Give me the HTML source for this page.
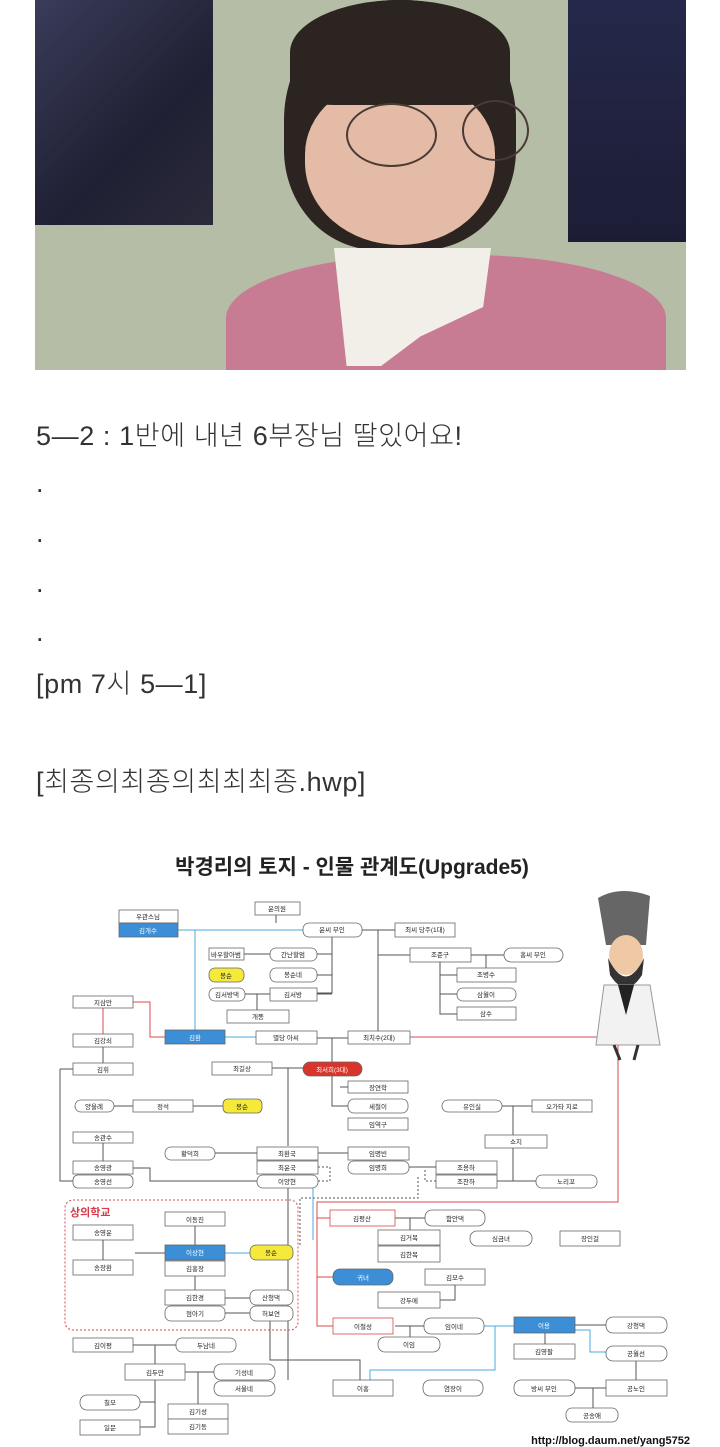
<!DOCTYPE html>
<html><head><meta charset="utf-8"><style>
*{margin:0;padding:0}
body{width:720px;height:1447px;background:#fff;position:relative;overflow:hidden;font-family:"Liberation Sans","Noto Sans CJK KR",sans-serif}
.a{position:absolute}
.t{position:absolute;left:36px;font-size:27px;letter-spacing:0.6px;color:#333;white-space:nowrap;font-family:"Liberation Sans","Noto Sans CJK KR",sans-serif;font-weight:300}
</style></head><body>
<div class="a" style="left:35px;top:0;width:651px;height:370px;background:#b5bda6;overflow:hidden">
 <div class="a" style="left:0;top:0;width:178px;height:225px;background:linear-gradient(135deg,#3a3c5a,#1f2033 60%,#2a2a3a)"></div>
 <div class="a" style="left:533px;top:0;width:118px;height:242px;background:linear-gradient(180deg,#25284a,#1c1d35)"></div>
 <div class="a" style="left:249px;top:0;width:232px;height:250px;border-radius:48% 48% 40% 40%;background:#2c2420"></div>
 <div class="a" style="left:270px;top:80px;width:190px;height:165px;border-radius:45% 45% 50% 50%;background:#e4bba6"></div>
 <div class="a" style="left:255px;top:0;width:220px;height:105px;border-radius:50% 50% 20% 20%;background:#2c2420"></div>
 <div class="a" style="left:311px;top:103px;width:87px;height:60px;border-radius:50%;border:2px solid #4a3a35"></div>
 <div class="a" style="left:427px;top:100px;width:63px;height:57px;border-radius:50%;border:2px solid #4a3a35"></div>
 <div class="a" style="left:191px;top:255px;width:440px;height:140px;border-radius:45% 45% 0 0;background:#c77c93"></div>
 <div class="a" style="left:299px;top:248px;width:157px;height:118px;background:#f2efe9;clip-path:polygon(0 0,100% 0,95% 50%,55% 75%,30% 100%,8% 100%)"></div>
</div>
<div class="t" style="top:414px">5—2 : 1반에 내년 6부장님 딸있어요!</div>
<div class="t" style="top:468px">.</div>
<div class="t" style="top:518px">.</div>
<div class="t" style="top:568px">.</div>
<div class="t" style="top:617px">.</div>
<div class="t" style="top:662px">[pm 7시 5—1]</div>
<div class="t" style="top:760px">[최종의최종의최최최종.hwp]</div>

<svg class="a" style="left:0;top:0" width="720" height="1447" font-family="Liberation Sans, Noto Sans CJK KR, sans-serif">
<text x="352" y="874" font-size="21" font-weight="bold" text-anchor="middle" fill="#222">박경리의 토지 - 인물 관계도(Upgrade5)</text>
<g fill="none" stroke="#555" stroke-width="1">
<path d="M276 915V923M362 930H395M378 930V1037M332 937V993H317M300 954H332M300 975H332M300 994H332M244 954H270M245 994H270M257 994V1010M378 955H410M471 955H504M486 955V968M440 962V1014H457M440 975H457M440 994H457M103 1047V1063M317 1038H348M332 1038V1062M272 1068H303M332 1075V1106H348M340 1087H348M114 1106H133M193 1106H223M215 1153H257M318 1153H348M103 1143V1161M60 1069H73M60 1069V1181H73M133 1168H150V1181H257M288 1068V1146M288 1188V1380M485 1106H532M513 1106V1135M497 1181H536M513 1181V1148M409 1167H436"/>
<path d="M225 1253H250M135 1253H165M103 1240V1260M195 1226V1245M195 1276V1290M225 1298H250M225 1313H250M270 1321V1360H360V1380M395 1218H425M410 1218V1230M395 1326H424M410 1326V1337M575 1325H606M545 1333V1344M636 1361V1380M575 1388H606M593 1388V1408M133 1345H176M155 1345V1364M185 1372H214M198 1372V1404M155 1380V1427H140M140 1402H155M440 1300H455V1285"/>
</g>
<g fill="none" stroke="#555" stroke-width="1" stroke-dasharray="2,2">
<path d="M193 1106H223M318 1167H330V1181H318M418 1177V1198H300V1245M436 1181H425V1170M485 1277H440"/>
</g>
<g fill="none" stroke="#4aa8dc" stroke-width="1">
<path d="M178 930H303M195 930V1030M225 1037H256M313 1188V1240M225 1253H250M484 1326H514M495 1326V1370H370V1380M575 1330H590V1352H606"/>
</g>
<g fill="none" stroke="#d94a4a" stroke-width="1">
<path d="M410 1037H618V1202H317V1326H333M317 1218H330M317 1277H333M103 1034V1008M133 1002H150V1037H165"/>
</g>
<rect x="65" y="1200" width="233" height="130" rx="8" fill="none" stroke="#d94a4a" stroke-dasharray="2,2"/>
<text x="70" y="1216" font-size="11" font-weight="bold" fill="#d9374a">상의학교</text>
<g stroke="#666" stroke-width="0.8">
<g fill="#fff">
<rect x="119" y="910" width="59" height="13"/><rect x="255" y="902" width="45" height="13"/>
<rect x="303" y="923" width="59" height="14" rx="6"/><rect x="395" y="923" width="60" height="14"/>
<rect x="209" y="948" width="35" height="12"/><rect x="270" y="948" width="47" height="13" rx="6"/>
<rect x="270" y="968" width="47" height="14" rx="6"/><rect x="209" y="988" width="36" height="13" rx="6"/>
<rect x="270" y="988" width="47" height="13"/><rect x="227" y="1010" width="62" height="13"/>
<rect x="410" y="948" width="61" height="14"/><rect x="504" y="948" width="59" height="14" rx="7"/>
<rect x="457" y="968" width="59" height="14"/><rect x="457" y="988" width="59" height="13" rx="6"/>
<rect x="457" y="1007" width="59" height="13"/><rect x="73" y="996" width="60" height="12"/>
<rect x="73" y="1034" width="60" height="13"/><rect x="73" y="1063" width="60" height="12"/>
<rect x="256" y="1031" width="61" height="13"/><rect x="348" y="1031" width="62" height="13"/>
<rect x="212" y="1062" width="60" height="13"/><rect x="348" y="1081" width="60" height="12"/>
<rect x="348" y="1099" width="60" height="14" rx="6"/><rect x="348" y="1118" width="60" height="12"/>
<rect x="75" y="1100" width="39" height="12" rx="6"/><rect x="133" y="1100" width="60" height="12"/>
<rect x="442" y="1100" width="60" height="12" rx="6"/><rect x="532" y="1100" width="60" height="12"/>
<rect x="485" y="1135" width="62" height="13"/>
<rect x="73" y="1132" width="60" height="11"/><rect x="73" y="1161" width="60" height="13"/><rect x="73" y="1175" width="60" height="13" rx="5"/>
<rect x="165" y="1147" width="50" height="13" rx="6"/><rect x="257" y="1147" width="61" height="13"/>
<rect x="257" y="1161" width="61" height="13"/><rect x="257" y="1175" width="61" height="13" rx="6"/>
<rect x="348" y="1147" width="61" height="13"/><rect x="348" y="1161" width="61" height="13" rx="6"/>
<rect x="436" y="1161" width="61" height="13"/><rect x="436" y="1175" width="61" height="13"/>
<rect x="536" y="1175" width="61" height="13" rx="6"/>
<rect x="165" y="1212" width="60" height="14"/><rect x="73" y="1225" width="60" height="15"/>
<rect x="73" y="1260" width="60" height="15"/><rect x="165" y="1261" width="60" height="15"/>
<rect x="165" y="1290" width="60" height="15"/><rect x="250" y="1290" width="43" height="15" rx="6"/>
<rect x="165" y="1306" width="60" height="15" rx="6"/><rect x="250" y="1306" width="43" height="15" rx="6"/>
<rect x="330" y="1210" width="65" height="16" stroke="#d94a4a"/><rect x="425" y="1210" width="60" height="16" rx="7"/>
<rect x="378" y="1230" width="62" height="15"/><rect x="378" y="1246" width="62" height="16"/>
<rect x="470" y="1231" width="62" height="15" rx="7"/><rect x="560" y="1231" width="60" height="15"/>
<rect x="425" y="1269" width="60" height="16"/><rect x="378" y="1292" width="62" height="16"/>
<rect x="333" y="1318" width="60" height="16" stroke="#d94a4a"/><rect x="424" y="1318" width="60" height="16" rx="7"/>
<rect x="378" y="1337" width="62" height="15" rx="7"/>
<rect x="606" y="1317" width="61" height="16" rx="7"/><rect x="514" y="1344" width="61" height="15"/>
<rect x="606" y="1346" width="61" height="15" rx="7"/><rect x="333" y="1380" width="60" height="16"/>
<rect x="423" y="1380" width="60" height="16" rx="7"/><rect x="514" y="1380" width="61" height="16" rx="7"/>
<rect x="606" y="1380" width="61" height="16"/><rect x="566" y="1408" width="52" height="14" rx="6"/>
<rect x="73" y="1338" width="60" height="14"/><rect x="176" y="1338" width="60" height="14" rx="6"/>
<rect x="125" y="1364" width="60" height="16"/><rect x="214" y="1364" width="61" height="16" rx="7"/>
<rect x="214" y="1381" width="61" height="15" rx="7"/><rect x="80" y="1395" width="60" height="15" rx="7"/>
<rect x="80" y="1420" width="60" height="15"/><rect x="168" y="1404" width="60" height="15"/><rect x="168" y="1419" width="60" height="15"/>
</g>
<rect x="119" y="923" width="59" height="14" fill="#3c8fd6"/>
<rect x="165" y="1030" width="60" height="14" fill="#3c8fd6"/>
<rect x="165" y="1245" width="60" height="15" fill="#3c8fd6"/>
<rect x="333" y="1269" width="60" height="16" rx="7" fill="#3c8fd6"/>
<rect x="514" y="1317" width="61" height="16" fill="#3c8fd6"/>
<rect x="303" y="1062" width="59" height="14" rx="7" fill="#d9342b"/>
<rect x="209" y="968" width="35" height="14" rx="6" fill="#f5ea3a"/>
<rect x="223" y="1099" width="39" height="14" rx="5" fill="#f5ea3a"/>
<rect x="250" y="1245" width="43" height="15" rx="6" fill="#f5ea3a"/>
</g>
<g font-size="6.5" text-anchor="middle" fill="#222">
<text x="148" y="919">우관스님</text><text x="277" y="911">윤의원</text><text x="332" y="932">윤씨 부인</text><text x="425" y="932">최씨 당주(1대)</text>
<text x="226" y="957">바우할아범</text><text x="293" y="957">간난할멈</text><text x="293" y="977">봉순네</text><text x="227" y="997">김서방댁</text><text x="293" y="997">김서방</text><text x="258" y="1019">개똥</text>
<text x="440" y="957">조준구</text><text x="533" y="957">홍씨 부인</text><text x="486" y="977">조병수</text><text x="486" y="997">삼월이</text><text x="486" y="1016">삼수</text>
<text x="103" y="1005">지삼만</text><text x="103" y="1043">김강쇠</text><text x="103" y="1072">김휘</text><text x="286" y="1040">별당 아씨</text><text x="379" y="1040">최치수(2대)</text>
<text x="242" y="1071">최길상</text><text x="378" y="1090">장연학</text><text x="378" y="1109">세철이</text><text x="378" y="1127">임역구</text>
<text x="94" y="1109">양을례</text><text x="163" y="1109">정석</text><text x="472" y="1109">유인실</text><text x="562" y="1109">오가타 지로</text><text x="516" y="1144">쇼지</text>
<text x="103" y="1140">송관수</text><text x="103" y="1170">송영광</text><text x="103" y="1184">송영선</text>
<text x="190" y="1156">황덕희</text><text x="287" y="1156">최환국</text><text x="287" y="1170">최윤국</text><text x="287" y="1184">이양현</text>
<text x="378" y="1156">임명빈</text><text x="378" y="1170">임명희</text><text x="466" y="1170">조용하</text><text x="466" y="1184">조찬하</text><text x="566" y="1184">노리꼬</text>
<text x="195" y="1222">이동진</text><text x="103" y="1235">송영운</text><text x="103" y="1270">송장환</text><text x="195" y="1271">김홍장</text>
<text x="195" y="1300">김한경</text><text x="271" y="1300">산청댁</text><text x="195" y="1316">점아기</text><text x="271" y="1316">허보연</text>
<text x="362" y="1221">김평산</text><text x="455" y="1221">함안댁</text><text x="409" y="1240">김거복</text><text x="409" y="1257">김한복</text><text x="501" y="1241">심금녀</text><text x="590" y="1241">장인걸</text>
<text x="455" y="1280">김모수</text><text x="409" y="1303">강두메</text><text x="363" y="1329">이철성</text><text x="454" y="1329">임이네</text><text x="409" y="1347">이임</text>
<text x="636" y="1328">강청댁</text><text x="544" y="1354">김영팔</text><text x="636" y="1356">공월선</text><text x="363" y="1391">이홍</text><text x="453" y="1391">염장이</text>
<text x="544" y="1391">방씨 부인</text><text x="636" y="1391">공노인</text><text x="592" y="1418">공송애</text>
<text x="103" y="1348">김이평</text><text x="206" y="1348">두남네</text><text x="155" y="1375">김두만</text><text x="244" y="1375">기성네</text><text x="244" y="1391">서울네</text>
<text x="110" y="1405">칠모</text><text x="110" y="1430">일문</text><text x="198" y="1414">김기성</text><text x="198" y="1429">김기동</text>
<text x="226" y="978">봉순</text><text x="242" y="1109">봉순</text><text x="271" y="1255">봉순</text>
</g>
<g font-size="6.5" text-anchor="middle" fill="#fff">
<text x="148" y="933">김개수</text><text x="195" y="1040">김환</text><text x="195" y="1255">이상현</text><text x="363" y="1280">귀녀</text><text x="544" y="1328">이용</text><text x="332" y="1072">최서희(3대)</text>
</g>
<g>
<path d="M598 898 Q620 885 650 896 L646 945 L606 945Z" fill="#666"/>
<ellipse cx="626" cy="955" rx="17" ry="20" fill="#efc9a6"/>
<path d="M608 958 Q626 995 644 958 L642 975 Q626 1000 610 975Z" fill="#333"/>
<path d="M604 985 L650 985 L660 1045 L596 1045Z" fill="#f2f2f2" stroke="#999"/>
<path d="M618 985 L626 1015 L634 985Z" fill="#222"/>
<path d="M614 1045 L620 1060 M638 1045 L634 1060" stroke="#333" stroke-width="3"/>
</g>
<text x="690" y="1444" font-size="11" font-weight="bold" text-anchor="end" fill="#111">http://blog.daum.net/yang5752</text>
</svg>
</body></html>
